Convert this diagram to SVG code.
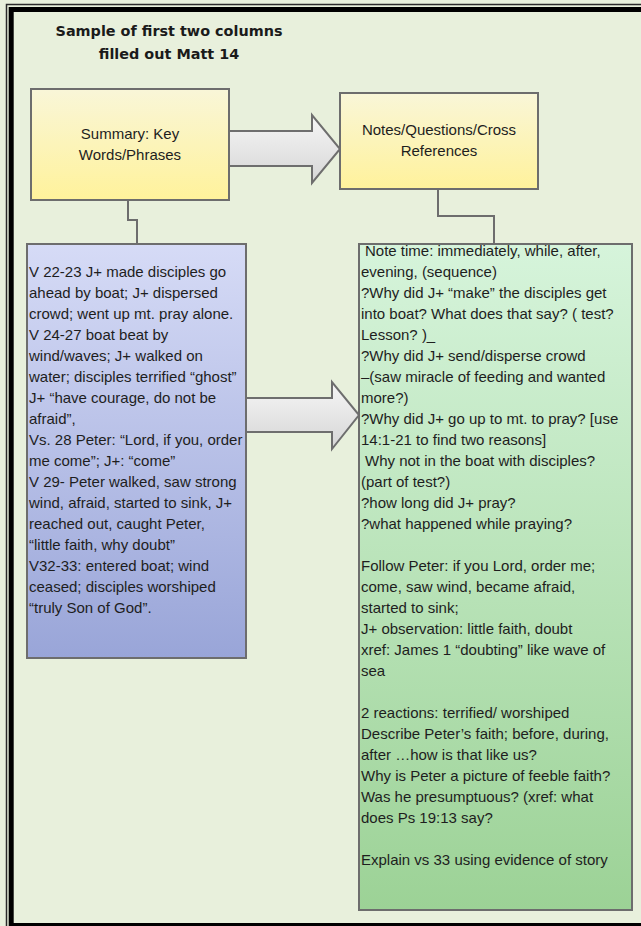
<svg xmlns="http://www.w3.org/2000/svg" width="641" height="926" viewBox="0 0 641 926">
<defs>
<linearGradient id="gYellow" x1="0" y1="0" x2="0" y2="1"><stop offset="0" stop-color="#F9F6D8"/><stop offset="1" stop-color="#FFF29B"/></linearGradient>
<linearGradient id="gBlue" x1="0" y1="0" x2="0" y2="1"><stop offset="0" stop-color="#D6DBF6"/><stop offset="1" stop-color="#99A5D8"/></linearGradient>
<linearGradient id="gGreen" x1="0" y1="0" x2="0" y2="1"><stop offset="0" stop-color="#D6F4DB"/><stop offset="1" stop-color="#9CD296"/></linearGradient>
<linearGradient id="gArrow" x1="0" y1="0" x2="0" y2="1"><stop offset="0" stop-color="#F6F6F6"/><stop offset="1" stop-color="#D6D6D6"/></linearGradient>
<style>
.box{stroke:#6D6D6D;stroke-width:2}
.conn{fill:none;stroke:#6D6D6D;stroke-width:2}
.arrow{fill:url(#gArrow);stroke:#6E6E6E;stroke-width:2;stroke-linejoin:miter}
.t{font-family:"Liberation Sans",Arial,sans-serif;font-size:15px;fill:#1E1E1E}
.c{text-anchor:middle}
.title{font-family:"DejaVu Sans",Verdana,sans-serif;font-weight:bold;font-size:14.4px;fill:#1A1A1A;text-anchor:middle}
</style>
</defs>
<rect x="0" y="0" width="641" height="926" fill="#E8F0DC"/>
<rect x="6.5" y="4.5" width="700" height="1000" fill="none" stroke="#2A2A2A" stroke-width="1.5"/>
<rect x="11.2" y="9.5" width="700" height="916" fill="none" stroke="#000" stroke-width="5"/>
<g id="title">
<text class="title" x="169" y="35.5">Sample of first two columns</text>
<text class="title" x="169" y="58.5">filled out Matt 14</text>
</g>
<g id="connectors">
<path class="conn" d="M128,200 V220 H137 V244"/>
<path class="conn" d="M438,189 V216 H494 V245"/>
<path id="arrow-top" class="arrow" d="M229,131 H312 V115 L340,149 L312,183 V166 H229 Z"/>
<path id="arrow-mid" class="arrow" d="M246,398 H332 V382 L359,415 L332,449 V432 H246 Z"/>
</g>
<g id="summary-header">
<rect class="box" x="31" y="89" width="198" height="111" fill="url(#gYellow)"/>
<text class="t c" x="130" y="139">Summary: Key</text>
<text class="t c" x="130" y="160">Words/Phrases</text>
</g>
<g id="notes-header">
<rect class="box" x="340" y="93" width="198" height="96" fill="url(#gYellow)"/>
<text class="t c" x="439" y="135">Notes/Questions/Cross</text>
<text class="t c" x="439" y="156">References</text>
</g>
<g id="summary-body">
<rect class="box" x="27" y="244" width="219" height="414" fill="url(#gBlue)"/>
<text class="t" x="29" y="277">V 22-23 J+ made disciples go</text>
<text class="t" x="29" y="298">ahead by boat; J+ dispersed</text>
<text class="t" x="29" y="319">crowd; went up mt. pray alone.</text>
<text class="t" x="29" y="340">V 24-27 boat beat by</text>
<text class="t" x="29" y="361">wind/waves; J+ walked on</text>
<text class="t" x="29" y="382">water; disciples terrified “ghost”</text>
<text class="t" x="29" y="403">J+ “have courage, do not be</text>
<text class="t" x="29" y="424">afraid”,</text>
<text class="t" x="29" y="445">Vs. 28 Peter: “Lord, if you, order</text>
<text class="t" x="29" y="466">me come”; J+: “come”</text>
<text class="t" x="29" y="487">V 29- Peter walked, saw strong</text>
<text class="t" x="29" y="508">wind, afraid, started to sink, J+</text>
<text class="t" x="29" y="529">reached out, caught Peter,</text>
<text class="t" x="29" y="550">“little faith, why doubt”</text>
<text class="t" x="29" y="571">V32-33: entered boat; wind</text>
<text class="t" x="29" y="592">ceased; disciples worshiped</text>
<text class="t" x="29" y="613">“truly Son of God”.</text>
</g>
<g id="notes-body">
<rect class="box" x="359" y="244" width="273" height="666" fill="url(#gGreen)"/>
<text class="t" x="365" y="255.5">Note time: immediately, while, after,</text>
<text class="t" x="361" y="276.5">evening, (sequence)</text>
<text class="t" x="361" y="297.6">?Why did J+ “make” the disciples get</text>
<text class="t" x="361" y="318.6">into boat? What does that say? ( test?</text>
<text class="t" x="361" y="339.6">Lesson? )_</text>
<text class="t" x="361" y="360.7">?Why did J+ send/disperse crowd</text>
<text class="t" x="361" y="381.7">–(saw miracle of feeding and wanted</text>
<text class="t" x="361" y="402.7">more?)</text>
<text class="t" x="361" y="423.7">?Why did J+ go up to mt. to pray? [use</text>
<text class="t" x="361" y="444.8">14:1-21 to find two reasons]</text>
<text class="t" x="365" y="465.8">Why not in the boat with disciples?</text>
<text class="t" x="361" y="486.8">(part of test?)</text>
<text class="t" x="361" y="507.9">?how long did J+ pray?</text>
<text class="t" x="361" y="528.9">?what happened while praying?</text>
<text class="t" x="361" y="571">Follow Peter: if you Lord, order me;</text>
<text class="t" x="361" y="592">come, saw wind, became afraid,</text>
<text class="t" x="361" y="613">started to sink;</text>
<text class="t" x="361" y="634">J+ observation: little faith, doubt</text>
<text class="t" x="361" y="655.1">xref: James 1 “doubting” like wave of</text>
<text class="t" x="361" y="676.1">sea</text>
<text class="t" x="361" y="718.2">2 reactions: terrified/ worshiped</text>
<text class="t" x="361" y="739.2">Describe Peter’s faith; before, during,</text>
<text class="t" x="361" y="760.2">after …how is that like us?</text>
<text class="t" x="361" y="781.3">Why is Peter a picture of feeble faith?</text>
<text class="t" x="361" y="802.3">Was he presumptuous? (xref: what</text>
<text class="t" x="361" y="823.3">does Ps 19:13 say?</text>
<text class="t" x="361" y="865.4">Explain vs 33 using evidence of story</text>
</g>
</svg>
